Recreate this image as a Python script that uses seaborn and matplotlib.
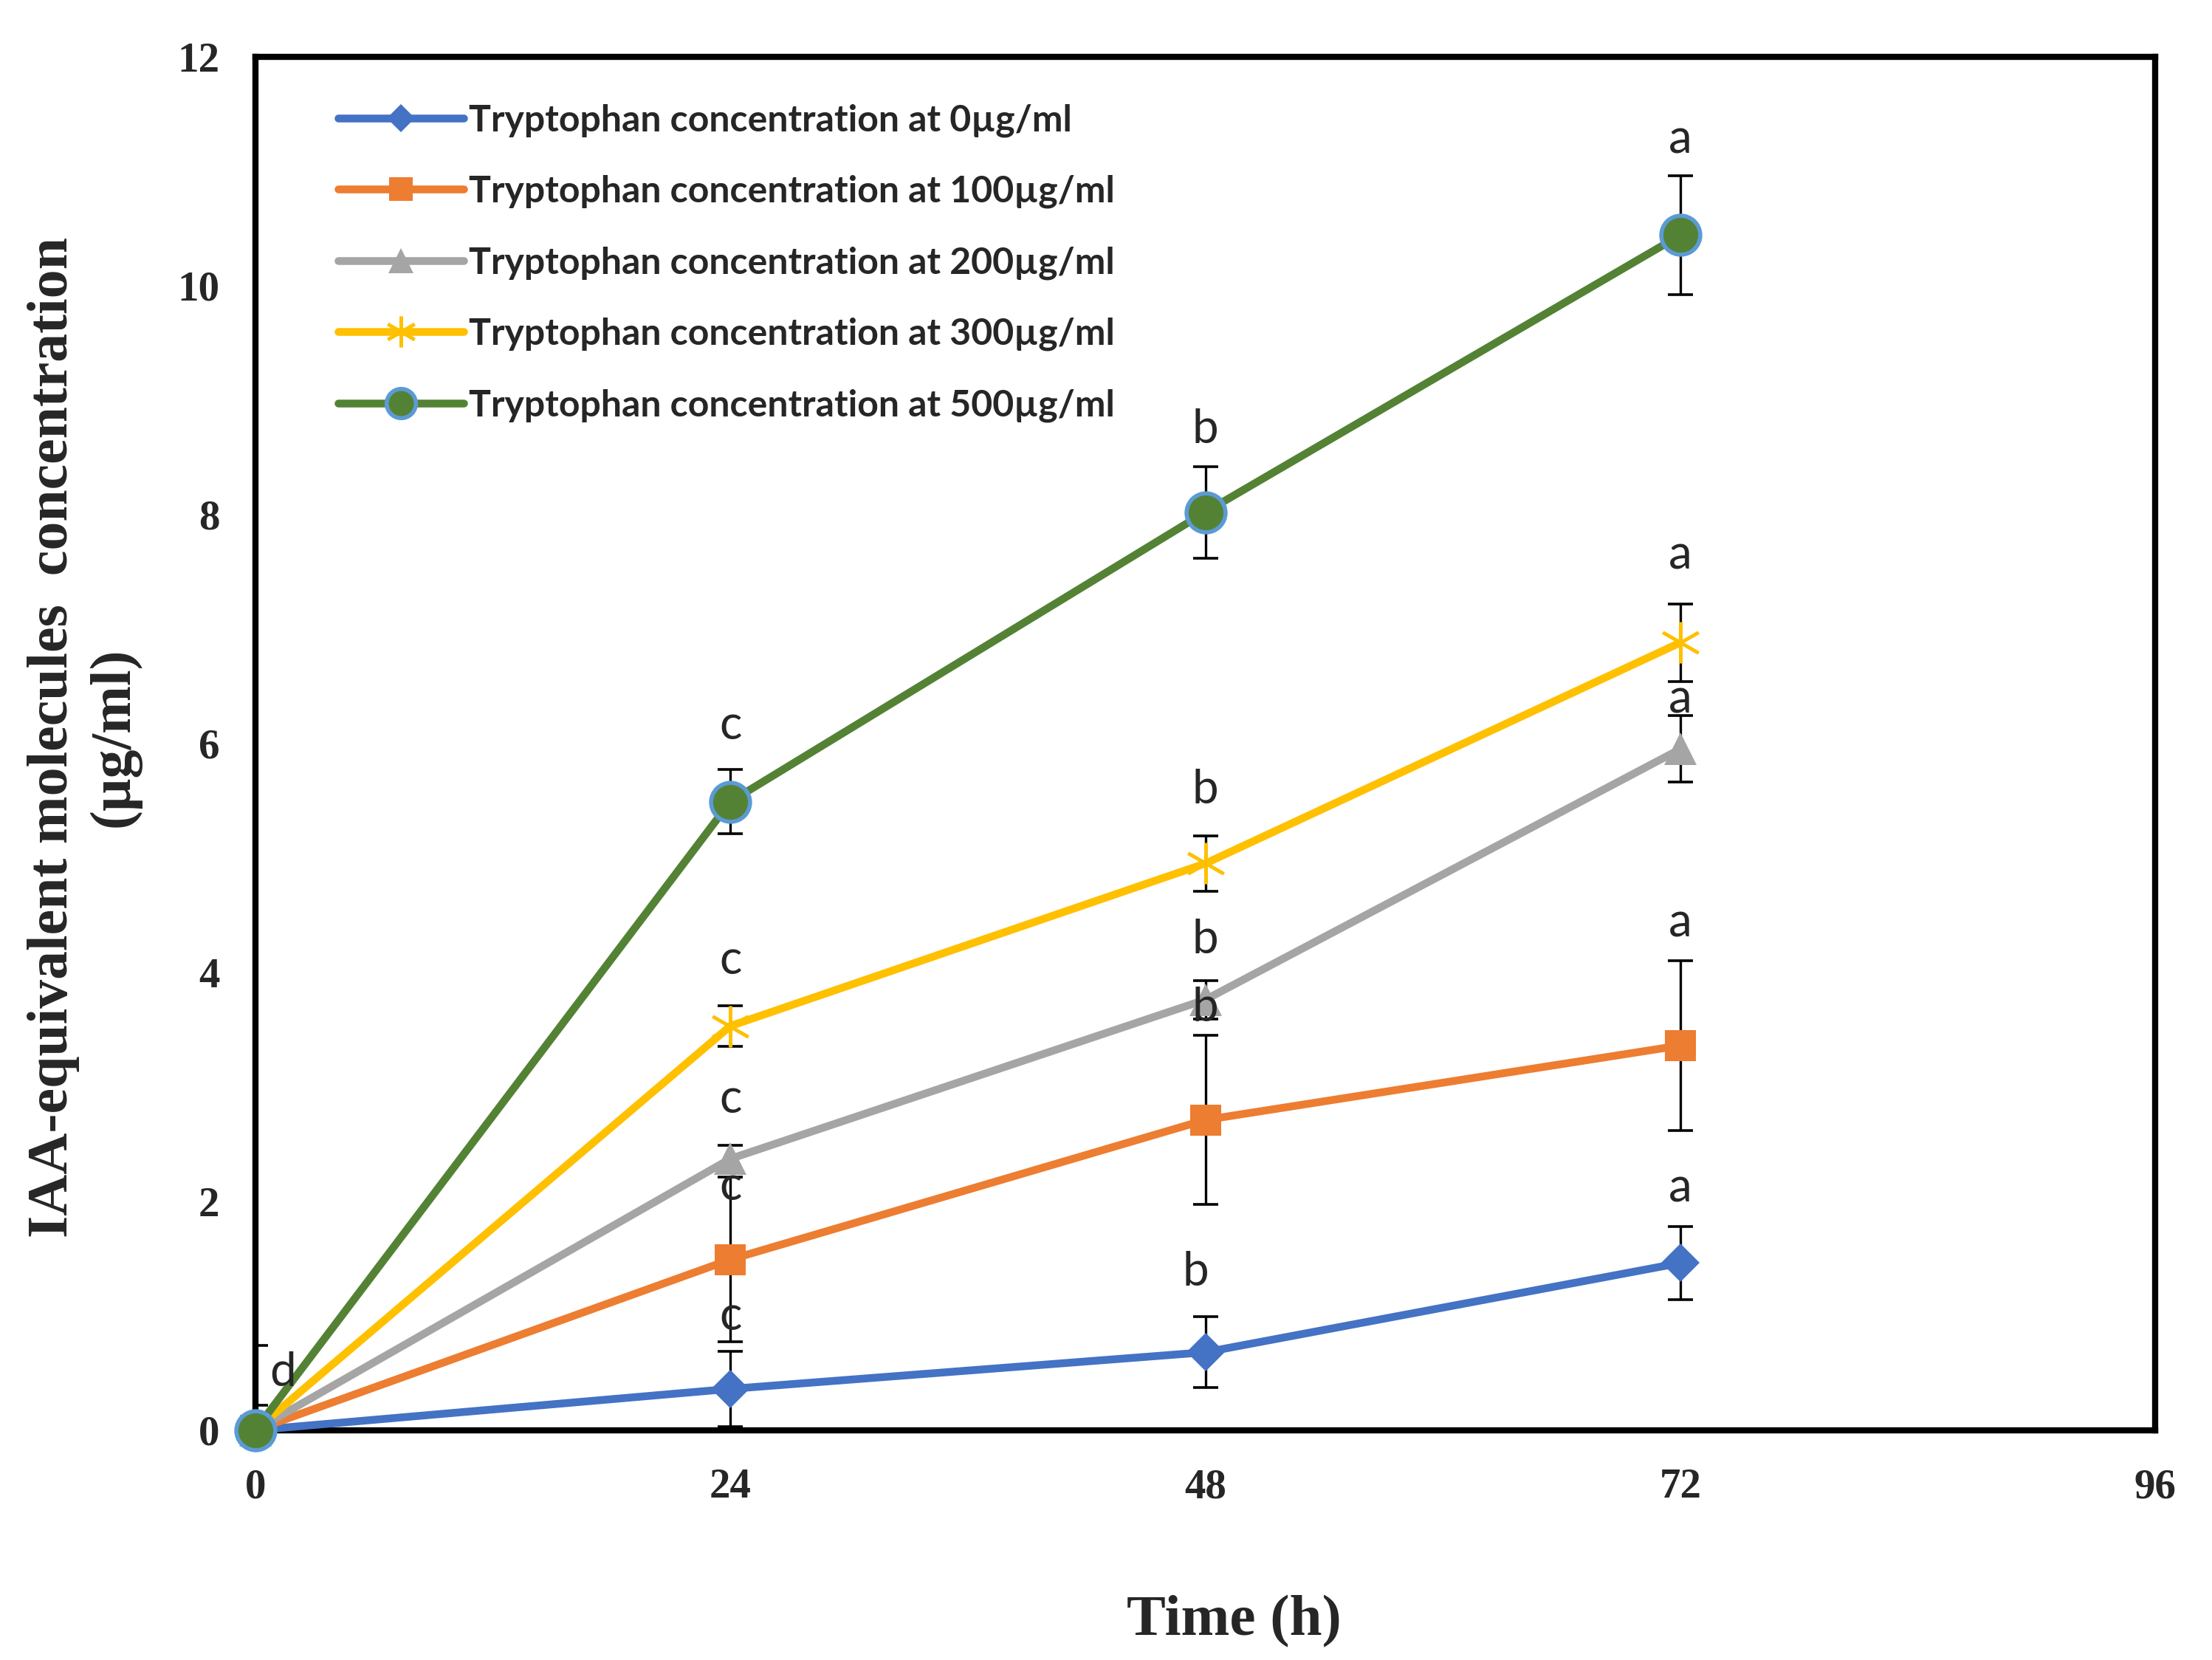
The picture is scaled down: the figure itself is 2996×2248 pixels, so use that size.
import numpy as np
import pandas as pd
import matplotlib
matplotlib.use("Agg")
import matplotlib.pyplot as plt
import seaborn as sns

# sampling times (h)
times = [0, 24, 48, 72]

# IAA-equivalent concentration (ug/ml) for each tryptophan dose
iaa_0 = [0.0, 0.36, 0.68, 1.46]
iaa_100 = [0.0, 1.49, 2.71, 3.36]
iaa_200 = [0.0, 2.37, 3.76, 5.95]
iaa_300 = [0.0, 3.53, 4.95, 6.88]
iaa_500 = [0.0, 5.49, 8.02, 10.44]

# standard deviations
err_0 = [0.0, 0.33, 0.31, 0.32]
err_100 = [0.0, 0.72, 0.74, 0.74]
err_200 = [0.0, 0.12, 0.17, 0.29]
err_300 = [0.0, 0.18, 0.24, 0.34]
err_500 = [0.0, 0.28, 0.40, 0.52]

labels = [
    "Tryptophan concentration at 0µg/ml",
    "Tryptophan concentration at 100µg/ml",
    "Tryptophan concentration at 200µg/ml",
    "Tryptophan concentration at 300µg/ml",
    "Tryptophan concentration at 500µg/ml",
]

# significance letters and where they sit (same series order)
letters_24 = ["c", "c", "c", "c", "c"]
letters_24_y = [0.99, 2.13, 2.89, 4.10, 6.15]
letters_48 = ["b", "b", "b", "b", "b"]
letters_48_y = [1.38, 3.69, 4.28, 5.59, 8.74]
letters_72 = ["a", "a", "a", "a", "a"]
letters_72_y = [2.11, 4.43, 6.38, 7.64, 11.27]
letter_0 = "d"
letter_0_y = 0.5
bar_0 = [0.22, 0.74]

values = [iaa_0, iaa_100, iaa_200, iaa_300, iaa_500]
errors = [err_0, err_100, err_200, err_300, err_500]

rows = []
for lab, vals, errs in zip(labels, values, errors):
    for t, v, e in zip(times, vals, errs):
        rows.append({"time": t, "iaa": v, "sd": e, "treatment": lab})
df = pd.DataFrame(rows)

sns.set_style("white")

colors = ["#4472C4", "#ED7D31", "#A5A5A5", "#FFC000", "#548235"]
styles = [
    dict(marker="D", markersize=13, markeredgecolor="#4472C4", markeredgewidth=0),
    dict(marker="s", markersize=15, markeredgecolor="#ED7D31", markeredgewidth=0),
    dict(marker="^", markersize=16, markeredgecolor="#A5A5A5", markeredgewidth=0),
    dict(marker=(6, 2, 0), markersize=20, markeredgecolor="#FFC000", markeredgewidth=1.6),
    dict(marker="o", markersize=19, markeredgecolor="#5B9BD5", markeredgewidth=2),
]

fig = plt.figure(figsize=(14.98, 11.24), dpi=200)
ax = fig.add_axes([0.1154, 0.1385, 0.859, 0.8274])

# error bars underneath the lines
for i, lab in enumerate(labels):
    sub = df[df["treatment"] == lab]
    ax.errorbar(sub["time"], sub["iaa"], yerr=sub["sd"], fmt="none",
                ecolor="black", elinewidth=1.2, capsize=6, capthick=1.3,
                zorder=2, clip_on=False)
ax.errorbar([0], [np.mean(bar_0)], yerr=[(bar_0[1] - bar_0[0]) / 2], fmt="none",
            ecolor="black", elinewidth=1.2, capsize=6, capthick=1.3, zorder=2)

for i, lab in enumerate(labels):
    sub = df[df["treatment"] == lab]
    sns.lineplot(data=sub, x="time", y="iaa", ax=ax, color=colors[i],
                 linewidth=3.8, label=lab, errorbar=None, zorder=3 + i,
                 clip_on=False, **styles[i])

# significance letters
lfont = dict(family="Lato", fontsize=23, ha="center", va="center", zorder=10)
for x, lets, ys in [(24, letters_24, letters_24_y), (48, letters_48, letters_48_y),
                    (72, letters_72, letters_72_y)]:
    for i, (l, y) in enumerate(zip(lets, ys)):
        dx = -0.5 if (x == 48 and i == 0) else 0
        ax.text(x + dx, y, l, **lfont)
ax.text(1.4, letter_0_y, letter_0, **lfont)

ax.set_xlim(0, 96)
ax.set_ylim(0, 12)
ax.set_xticks([0, 24, 48, 72, 96])
ax.set_yticks(np.arange(0, 13, 2))
for s in ax.spines.values():
    s.set_linewidth(3)
    s.set_color("black")
ax.tick_params(axis="both", direction="out", length=5.5, width=2.5, color="black")
ax.tick_params(axis="y", pad=12)
ax.tick_params(axis="x", pad=13)
for t in ax.get_xticklabels() + ax.get_yticklabels():
    t.set_fontfamily("Liberation Serif")
    t.set_fontweight("bold")
    t.set_fontsize(20.5)

ax.set_xlabel("Time (h)", fontfamily="Liberation Serif", fontweight="bold", fontsize=28.5)
ax.xaxis.set_label_coords(0.515, -0.12)
ax.set_ylabel("")
fig.text(0.038, 0.556, "IAA-equivalent molecules  concentration\n(µg/ml)",
         rotation=90, ha="center", va="center", ma="center",
         fontfamily="Liberation Serif", fontweight="bold", fontsize=28,
         linespacing=1.2)

leg = ax.legend(loc="upper left", bbox_to_anchor=(0.026, 0.99), frameon=False,
                prop=dict(family="Lato", weight="bold", size=18),
                handlelength=3.4, handletextpad=0.15, labelspacing=1.02,
                markerscale=0.75)

fig.savefig("out.png", dpi=200, facecolor="white")
